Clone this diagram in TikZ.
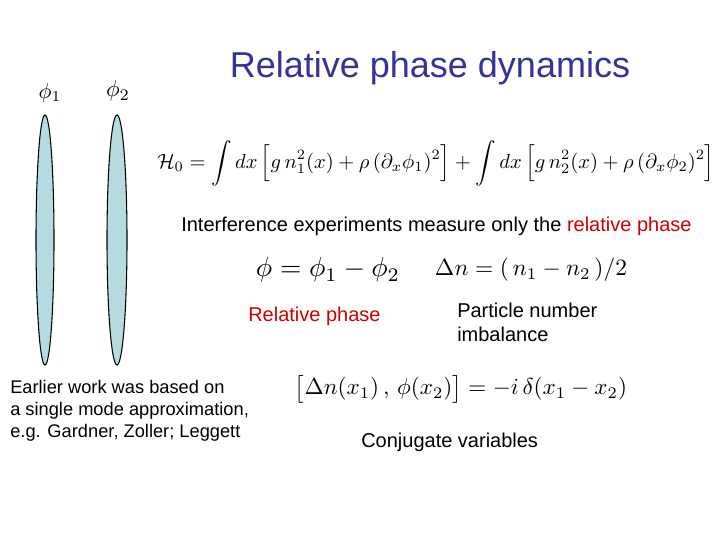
\documentclass[tikz,border=0pt]{standalone}
\usepackage{fontspec}
\usepackage{amsmath,graphicx}
\setmainfont{Liberation Sans}
\definecolor{ttl}{HTML}{333399}
\definecolor{lens}{HTML}{B4DCE0}
\definecolor{rd}{HTML}{CC0000}
\begin{document}
\begin{tikzpicture}[x=0.75pt,y=-0.75pt,
  txt/.style={inner sep=0pt,font=\fontsize{15}{18}\selectfont},
  eq/.style={inner sep=0pt},
  lensst/.style={draw=black,fill=lens,line width=0.8pt}]
\useasboundingbox (0,0) rectangle (720,540);
\node[inner sep=0pt,text=ttl,font=\fontsize{27}{32}\selectfont] (title) at (430,68) {Relative phase dynamics};
\node[eq] (p1) at (50,93) {\resizebox{17pt}{!}{$\phi_1$}};
\node[eq] (p2) at (118,91) {\resizebox{18pt}{!}{$\phi_2$}};
\draw[lensst] (45,240) ellipse (9 and 125);
\draw[lensst] (117,240) ellipse (10 and 125);
\node[eq] (H) at (436,163) {\resizebox{418pt}{!}{$\mathcal{H}_0=\displaystyle\int dx\,\Big[g\,n_1^2(x)+\rho\,(\partial_x\phi_1)^2\Big]+\int dx\,\Big[g\,n_2^2(x)+\rho\,(\partial_x\phi_2)^2\Big]$}};
\node[txt,anchor=west] (int) at (181,226) {Interference experiments measure only the \textcolor{rd}{relative phase}};
\node[eq] (phi) at (328,270) {\resizebox{108pt}{!}{$\phi=\phi_1-\phi_2$}};
\node[eq] (dn) at (531,270) {\resizebox{144pt}{!}{$\Delta n=(\,n_1-n_2\,)/2$}};
\node[txt,anchor=west,text=rd] (rp) at (248,316) {Relative phase};
\node[txt,anchor=west,align=left] (pn) at (457,322) {Particle number\\imbalance};
\node[txt,anchor=west,align=left,font=\fontsize{13.7}{16.5}\selectfont] (ew) at (10,411) {Earlier work was based on\\a single mode approximation,\\e.g. Gardner, Zoller; Leggett};
\node[eq] (cm) at (461,389) {\resizebox{249pt}{!}{$\big[\Delta n(x_1)\,,\,\phi(x_2)\big]=-i\,\delta(x_1-x_2)$}};
\node[txt,anchor=west] (cv) at (361,442) {Conjugate variables};
\end{tikzpicture}
\end{document}
